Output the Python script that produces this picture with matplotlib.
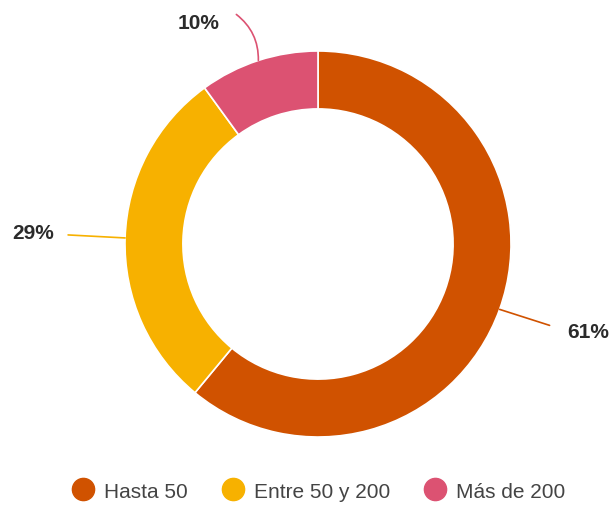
import matplotlib
import numpy as np

matplotlib.use("Agg")
import matplotlib.pyplot as plt  # noqa: E402
from matplotlib.lines import Line2D  # noqa: E402

categories = ["Hasta 50", "Entre 50 y 200", "Más de 200"]
shares = [61, 29, 10]
colors = ["#D05200", "#F7B100", "#DC5272"]

W, H = 613, 510
plt.rcParams["font.family"] = ["Liberation Sans", "DejaVu Sans"]

fig = plt.figure(figsize=(W / 100, H / 100), dpi=100)
ax = fig.add_axes([0, 0, 1, 1])

center = (318, 265)
radius = 193
wedges, _ = ax.pie(shares, colors=colors, startangle=90, counterclock=False,
                   radius=radius, center=center,
                   wedgeprops=dict(width=radius * 0.3, edgecolor="white", linewidth=1.2))
ax.set_xlim(0, W)
ax.set_ylim(0, H)
ax.set_aspect("equal")
ax.axis("off")

# label placement (text offset from the outer edge point of each slice, in px)
label_offsets = [(89, -22), (-92, 5), (-60, 38)]
line_ends = [(50, -16), (-57, 3), (-22, 46)]
rads = [0.0, 0.0, -0.25]
for w, val, off, end, rad in zip(wedges, shares, label_offsets, line_ends, rads):
    mid = np.deg2rad((w.theta1 + w.theta2) / 2)
    px = center[0] + radius * np.cos(mid)
    py = center[1] + radius * np.sin(mid)
    ax.annotate("", xy=(px, py), xytext=(px + end[0], py + end[1]),
                arrowprops=dict(arrowstyle="-", color=w.get_facecolor(), lw=1.2,
                                shrinkA=0, shrinkB=0,
                                connectionstyle=f"arc3,rad={rad}"))
    ax.text(px + off[0], py + off[1], f"{val}%", ha="center", va="center",
            fontsize=15, fontweight="bold", color="#2b2b2b")

handles = [Line2D([], [], marker="o", linestyle="", markersize=16,
                  markerfacecolor=c, markeredgecolor=c) for c in colors]
fig.legend(handles, categories, loc="center", bbox_to_anchor=(0.52, 0.035),
           ncol=3, frameon=False, fontsize=15, labelcolor="#444444",
           handletextpad=0.5, columnspacing=1.66, handlelength=1.0)

fig.savefig("out.png", dpi=100, facecolor="white")
